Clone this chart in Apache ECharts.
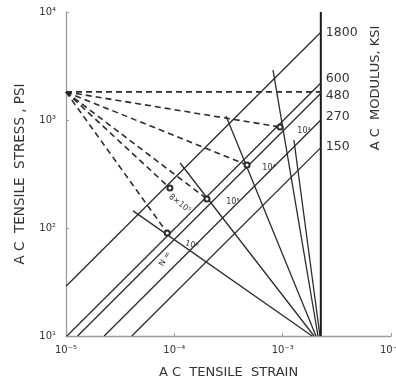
<!DOCTYPE html>
<html>
<head>
<meta charset="utf-8">
<script src="https://cdn.jsdelivr.net/npm/echarts@6/dist/echarts.min.js"></script>
<style>
  html, body { margin: 0; padding: 0; background: #fff; }
  #chart { width: 396px; height: 378px; }
</style>
</head>
<body>
<div id="chart"></div>
<script>
// Axis ticks (log decades) and their printed labels
const xTicks = [1e-5, 1e-4, 1e-3, 1e-2];
const xTickLabels = ['10\u207B\u2075', '10\u207B\u2074', '10\u207B\u00B3', '10\u207B\u00B2'];
const yTicks = [10, 100, 1000, 10000];
const yTickLabels = ['10\u00B9', '10\u00B2', '10\u00B3', '10\u2074'];

// Strain of the heavy vertical reference line
const refStrain = 2.25e-3;

// AC modulus lines (ksi): start point [strain, psi] and stress reached at refStrain
const modulusKsi = ['1800', '600', '480', '270', '150'];
const modulusStart = [[1e-5, 28.9], [1.02e-5, 10], [1.28e-5, 10], [2.25e-5, 10], [4.05e-5, 10]];
const modulusEndStress = [6500, 2200, 1770, 1000, 555];

// Repetition lines fanning up from the bottom of the reference line
const fanTop = [[8.15e-4, 2900], [1.27e-3, 653], [3.0e-4, 1090], [1.13e-4, 400], [4.16e-5, 144]];
const fanBottom = [[2.12e-3, 10], [2.21e-3, 10], [2.03e-3, 10], [1.95e-3, 10], [1.87e-3, 10]];

// Dashed rays from the common pivot to the labelled repetition points
const pivot = [1e-5, 1820];
const rayLabels = ['', '10\u00B3', '10\u2074', '10\u2075', '8\u00D710\u2075', '10\u2076'];
const rayEnds = [[2.25e-3, 1820], [9.46e-4, 861], [4.69e-4, 383], [2.0e-4, 186], [9.1e-5, 234], [8.6e-5, 90]];

const ink = '#2b2b2b';
const font = 'DejaVu Sans';

const series = [];

// vertical reference line
series.push({
  type: 'line', data: [[refStrain, 10], [refStrain, 10000]],
  symbol: 'none', silent: true,
  lineStyle: { color: '#1a1a1a', width: 2 }
});

// modulus lines with their labels to the right
const modLabelOffset = [[-3, 1], [-3, -4], [-3, 3], [-3, -3], [-3, -1]];
modulusKsi.forEach((name, i) => {
  series.push({
    type: 'line', name: name,
    data: [modulusStart[i], [refStrain, modulusEndStress[i]]],
    symbol: 'none', silent: true,
    lineStyle: { color: ink, width: 1.3 },
    endLabel: {
      show: true, formatter: name, offset: modLabelOffset[i],
      fontFamily: font, fontSize: 12.5, color: '#333'
    }
  });
});

// repetition (fan) lines
fanTop.forEach((p, i) => {
  series.push({
    type: 'line', data: [p, fanBottom[i]],
    symbol: 'none', silent: true,
    lineStyle: { color: ink, width: 1.3 }
  });
});

// dashed rays, each ending at a small ring with its N label
const rayLabelStyle = [
  null,
  { offset: [16, 4], rotate: 0 },
  { offset: [14, 3], rotate: 0 },
  { offset: [18, 3], rotate: 0 },
  { offset: [11, 11], rotate: -38 },
  { offset: [19, 7], rotate: -15 }
];
rayEnds.forEach((p, i) => {
  const s = rayLabelStyle[i];
  series.push({
    type: 'line',
    data: [pivot, { value: p, symbol: i === 0 ? 'none' : 'emptyCircle', symbolSize: 5 }],
    symbol: 'none', showSymbol: true, silent: true,
    itemStyle: { color: ink, borderWidth: 0.8 },
    lineStyle: { color: ink, width: 1.6, type: [6, 4] },
    endLabel: s ? {
      show: true, formatter: rayLabels[i], offset: s.offset, rotate: s.rotate,
      align: 'center', verticalAlign: 'middle',
      fontFamily: font, fontSize: 8, color: '#333'
    } : { show: false }
  });
});

const chart = echarts.init(document.getElementById('chart'), null, { renderer: 'canvas' });
chart.setOption({
  animation: false,
  backgroundColor: '#fff',
  grid: { left: 66, right: 5, top: 12, bottom: 42, containLabel: false, outerBoundsMode: 'none' },
  xAxis: {
    type: 'log', logBase: 10, min: 1e-5, max: 1e-2,
    name: 'A C  TENSILE  STRAIN', nameLocation: 'middle', nameGap: 30,
    nameTextStyle: { fontFamily: font, fontSize: 13, color: '#333' },
    axisLine: { lineStyle: { color: '#9a9a9a', width: 1.3 } },
    axisTick: { inside: true, length: 3, lineStyle: { color: '#9a9a9a' } },
    minorTick: { show: false },
    splitLine: { show: false },
    axisLabel: {
      fontFamily: font, fontSize: 10, color: '#333', margin: 9,
      formatter: v => xTickLabels[xTicks.findIndex(t => Math.abs(Math.log10(t) - Math.log10(v)) < 1e-6)] || ''
    }
  },
  yAxis: {
    type: 'log', logBase: 10, min: 10, max: 10000,
    name: 'A C  TENSILE  STRESS , PSI', nameLocation: 'middle', nameGap: 39, nameRotate: 90,
    nameTextStyle: { fontFamily: font, fontSize: 13.5, color: '#333' },
    axisLine: { lineStyle: { color: '#9a9a9a', width: 1.3 } },
    axisTick: { inside: true, length: 3, lineStyle: { color: '#9a9a9a' } },
    splitLine: { show: false },
    axisLabel: {
      fontFamily: font, fontSize: 10, color: '#333', margin: 10,
      formatter: v => yTickLabels[yTicks.findIndex(t => Math.abs(Math.log10(t) - Math.log10(v)) < 1e-6)] || ''
    }
  },
  graphic: [
    {
      type: 'text', x: 376, y: 88, rotation: Math.PI / 2,
      style: {
        text: 'A C  MODULUS, KSI', fontFamily: font, fontSize: 13, fill: '#333',
        textAlign: 'center', textVerticalAlign: 'middle'
      }
    },
    {
      type: 'text', x: 165, y: 259, rotation: Math.PI / 3,
      style: {
        text: 'N =', fontFamily: font, fontSize: 8, fill: '#333',
        textAlign: 'center', textVerticalAlign: 'middle'
      }
    }
  ],
  series: series
});
</script>
</body>
</html>
